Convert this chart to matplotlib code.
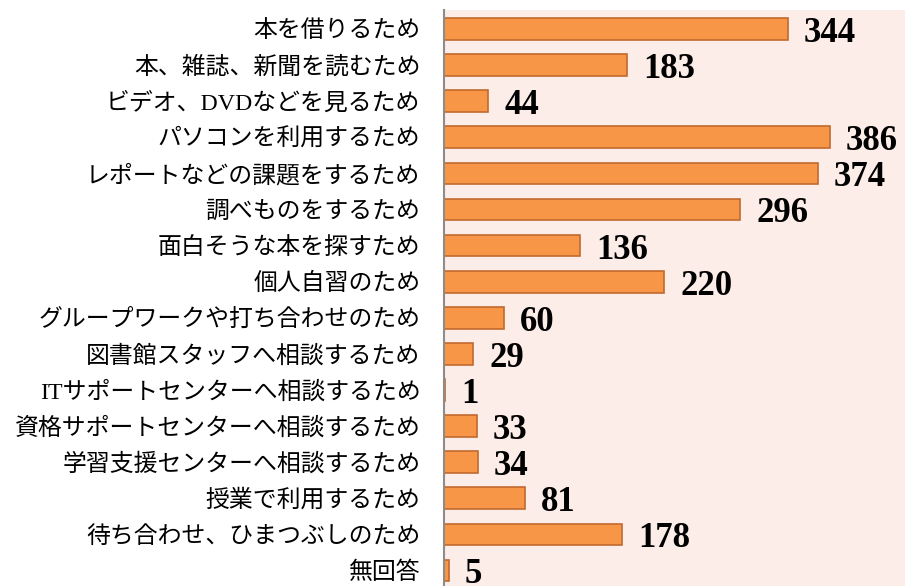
import matplotlib
matplotlib.use("Agg")
import matplotlib.pyplot as plt

# データ（利用目的と件数）
labels = [
    "本を借りるため",
    "本、雑誌、新聞を読むため",
    "ビデオ、DVDなどを見るため",
    "パソコンを利用するため",
    "レポートなどの課題をするため",
    "調べものをするため",
    "面白そうな本を探すため",
    "個人自習のため",
    "グループワークや打ち合わせのため",
    "図書館スタッフへ相談するため",
    "ITサポートセンターへ相談するため",
    "資格サポートセンターへ相談するため",
    "学習支援センターへ相談するため",
    "授業で利用するため",
    "待ち合わせ、ひまつぶしのため",
    "無回答",
]
counts = [344, 183, 44, 386, 374, 296, 136, 220, 60, 29, 1, 33, 34, 81, 178, 5]

fig = plt.figure(figsize=(9.05, 5.86), dpi=100)
ax = fig.add_axes([444 / 905, 0, 1 - 444 / 905, 1 - 10 / 586])
ax.set_facecolor("#fcede8")

pos = list(range(len(labels)))
ax.barh(pos, counts, height=0.6, color="#f79646", edgecolor="#c0692e", linewidth=1.2)

# 数値ラベル（ベースラインを少し下げて中央に見せる）
for y, v in zip(pos, counts):
    ax.text(v + 16, y + 0.36, str(v), va="baseline", ha="left",
            fontfamily="Liberation Serif", fontweight="bold", fontsize=25)

ax.set_xlim(0, 461)
ax.set_ylim(15.43, -0.526)
ax.set_yticks(pos)
ax.set_yticklabels(labels, fontfamily=["Liberation Serif", "Noto Sans CJK JP"], fontsize=17.2)
ax.tick_params(axis="y", length=0, pad=17)
ax.set_xticks([])

for s in ["top", "right", "bottom"]:
    ax.spines[s].set_visible(False)
ax.spines["left"].set_color("#8c8c8c")
ax.spines["left"].set_linewidth(1.5)

fig.savefig("out.png", dpi=100)
